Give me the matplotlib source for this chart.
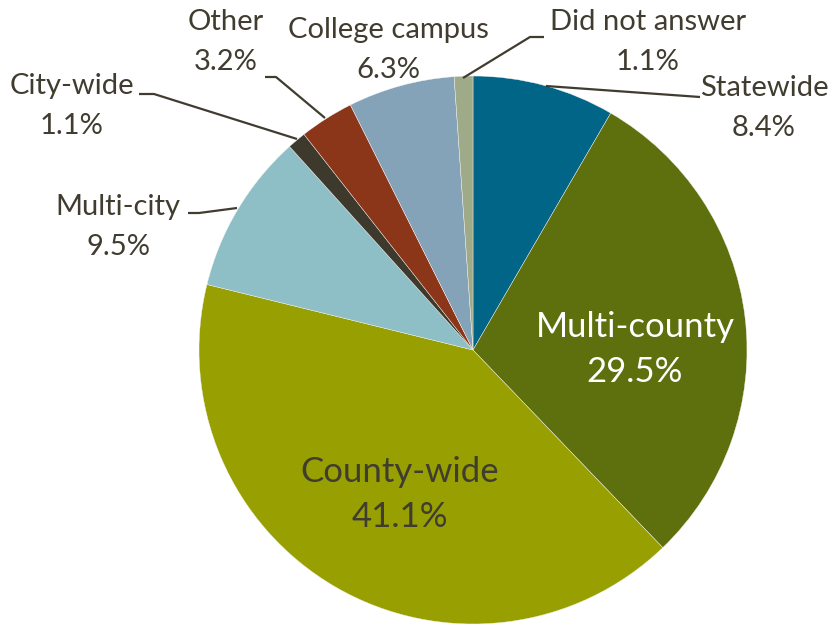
import matplotlib
matplotlib.use("Agg")
import matplotlib.pyplot as plt
import matplotlib.transforms as mtransforms
from matplotlib import font_manager

categories = ["Statewide", "Multi-county", "County-wide", "Multi-city",
              "City-wide", "Other", "College campus", "Did not answer"]
values = [8.4, 29.5, 41.1, 9.5, 1.1, 3.2, 6.3, 1.1]
colors = ["#006587", "#5e6f0e", "#97a000", "#8ebec6",
          "#3d392d", "#8b3519", "#85a3b8", "#9faa88"]

avail = {f.name for f in font_manager.fontManager.ttflist}
family = "Liberation Sans Narrow" if "Liberation Sans Narrow" in avail else "Lato"
plt.rcParams["font.family"] = [family, "DejaVu Sans"]

W, H = 832, 625
fig = plt.figure(figsize=(W / 100, H / 100), dpi=100)
ax = fig.add_axes([0, 0, 1, 1])

cx, cy, r = 473, 350, 274
wedges, _ = ax.pie(values, colors=colors, startangle=90, counterclock=False,
                   center=(cx, -cy), radius=r,
                   wedgeprops=dict(linewidth=0.3, edgecolor="#f4f4f0"))
# pie draws in y-up; flip wedges onto the y-down pixel-like axis
flip = mtransforms.Affine2D().scale(1, -1) + ax.transData
for w in wedges:
    w.set_transform(flip)
ax.set_xlim(0, W)
ax.set_ylim(H, 0)
ax.set_aspect("equal")
ax.axis("off")

txt = "#403c30"
fs = 21

def lbl(i, x, y):
    ax.text(x, y, categories[i], ha="center", va="center", fontsize=fs, color=txt)
    ax.text(x, y + 40, f"{values[i]:.1f}%", ha="center", va="center", fontsize=fs, color=txt)

lbl(0, 764, 88)
lbl(7, 648, 22)
lbl(6, 388, 30)
lbl(5, 226, 22)
lbl(4, 72, 86)
lbl(3, 118, 207)

# labels placed inside the two largest slices
ax.text(635, 327, categories[1], ha="center", va="center", fontsize=25, color="white")
ax.text(635, 372, f"{values[1]:.1f}%", ha="center", va="center", fontsize=25, color="white")
ax.text(400, 472, categories[2], ha="center", va="center", fontsize=25, color=txt)
ax.text(400, 517, f"{values[2]:.1f}%", ha="center", va="center", fontsize=25, color=txt)

# leader lines for the outside labels
lc = dict(color="#403c30", linewidth=1.6, solid_capstyle="butt")
ax.plot([546, 700], [86, 97], **lc)
ax.plot([463, 530, 544], [78, 37, 37], **lc)
ax.plot([265, 276, 325], [77, 77, 118], **lc)
ax.plot([139, 154, 297], [94, 94, 139], **lc)
ax.plot([188, 199, 237], [213, 213, 208], **lc)

fig.savefig("out.png", dpi=100)
